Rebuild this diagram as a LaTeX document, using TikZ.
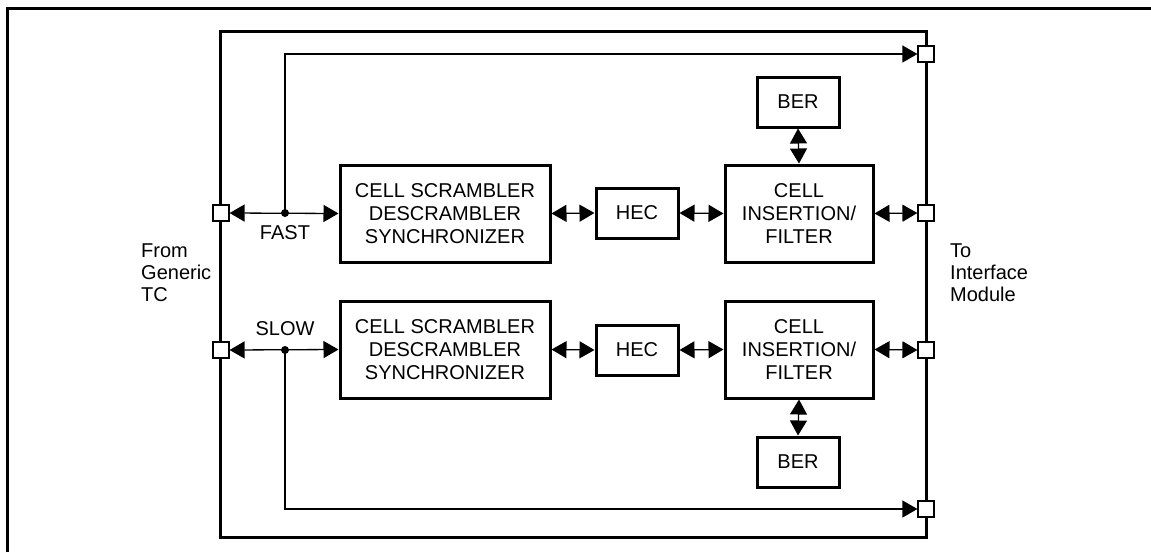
\documentclass[tikz,border=0pt]{standalone}
\usepackage{fontspec}
\setmainfont{Liberation Sans}
\usetikzlibrary{arrows.meta}
\begin{document}
\begin{tikzpicture}[x=1pt,y=-1pt,
  blk/.style={draw, line width=3pt, align=center, inner sep=0pt,
    font=\fontsize{20}{23}\selectfont},
  bigblk/.style={blk, minimum width=210pt, minimum height=97pt},
  ciblk/.style={blk, minimum width=148pt, minimum height=97pt},
  smallblk/.style={blk, minimum width=82pt, minimum height=50pt},
  port/.style={draw, line width=1.2pt, fill=white, minimum size=16pt, inner sep=0pt},
  dot/.style={circle, fill=black, minimum size=8pt, inner sep=0pt},
  lbl/.style={font=\fontsize{20}{22}\selectfont, inner sep=0pt},
  conn/.style={line width=1.3pt},
  tip/.style={-{Triangle[length=15pt,width=17pt]}},
  dtip/.style={{Triangle[length=15pt,width=17pt]}-{Triangle[length=15pt,width=17pt]}},
  frame/.style={line width=3pt}
]
\useasboundingbox (0,0) rectangle (1151,552);
% outer frame (open)
\draw[frame] (7,552) -- (7,8) -- (1151,8);
% inner frame
\draw[frame] (220.5,31) rectangle (926,537);

% blocks
\node[bigblk] (csds1) at (445,213.5) {CELL SCRAMBLER\\DESCRAMBLER\\SYNCHRONIZER};
\node[smallblk] (hec1) at (637,213) {HEC};
\node[ciblk] (ci1) at (799,213.5) {CELL\\INSERTION/\\FILTER};
\node[smallblk] (ber1) at (798,102) {BER};

\node[bigblk] (csds2) at (445,349.5) {CELL SCRAMBLER\\DESCRAMBLER\\SYNCHRONIZER};
\node[smallblk] (hec2) at (637,350) {HEC};
\node[ciblk] (ci2) at (799,349.5) {CELL\\INSERTION/\\FILTER};
\node[smallblk] (ber2) at (798,462) {BER};

% ports
\node[port] (pl1) at (221,213) {};
\node[port] (pl2) at (221,350) {};
\node[port] (pr1) at (926,213) {};
\node[port] (pr2) at (926,350) {};
\node[port] (pt) at (926,54) {};
\node[port] (pb) at (926,509) {};

% junctions
\node[dot] (j1) at (285,213) {};
\node[dot] (j2) at (285,350) {};

% connectors
\draw[conn,dtip] (pl1.east) -- (csds1.west);
\draw[conn,dtip] (pl2.east) -- (csds2.west);
\draw[conn,tip] (j1.center) |- (pt.west);
\draw[conn,tip] (j2.center) |- (pb.west);
\draw[conn,dtip] (csds1.east) -- (hec1.west);
\draw[conn,dtip] (hec1.east) -- (ci1.west);
\draw[conn,dtip] (ci1.east) -- (pr1.west);
\draw[conn,dtip] (csds2.east) -- (hec2.west);
\draw[conn,dtip] (hec2.east) -- (ci2.west);
\draw[conn,dtip] (ci2.east) -- (pr2.west);
\draw[conn,dtip] (ber1.south) -- (ci1.north);
\draw[conn,dtip] (ci2.south) -- (ber2.north);

% labels
\node[lbl] (fast) at (285,233) {FAST};
\node[lbl] (slow) at (285,329) {SLOW};
\node[lbl, align=left, anchor=west] (from) at (141,273) {From\\Generic\\TC};
\node[lbl, align=left, anchor=west] (to) at (950,273) {To\\Interface\\Module};
\end{tikzpicture}
\end{document}
